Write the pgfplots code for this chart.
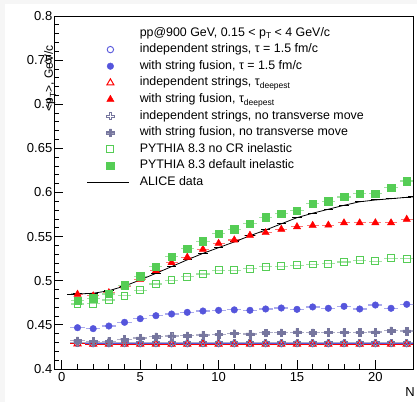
\documentclass[border=0pt]{standalone}
\usepackage{fontspec}
\setmainfont{Liberation Sans}
\usepackage{pgfplots}
\pgfplotsset{compat=1.18}
\usetikzlibrary{backgrounds}

\definecolor{cblue}{RGB}{85,85,220}
\definecolor{cred}{RGB}{255,0,0}
\definecolor{cgray}{RGB}{118,118,158}
\definecolor{cgreen}{RGB}{85,205,85}

% cross marks (ROOT styles 28 and 34)
\pgfdeclareplotmark{ocross}{%
  \pgfpathmoveto{\pgfqpoint{0.3\pgfplotmarksize}{\pgfplotmarksize}}%
  \pgfpathlineto{\pgfqpoint{0.3\pgfplotmarksize}{0.3\pgfplotmarksize}}%
  \pgfpathlineto{\pgfqpoint{\pgfplotmarksize}{0.3\pgfplotmarksize}}%
  \pgfpathlineto{\pgfqpoint{\pgfplotmarksize}{-0.3\pgfplotmarksize}}%
  \pgfpathlineto{\pgfqpoint{0.3\pgfplotmarksize}{-0.3\pgfplotmarksize}}%
  \pgfpathlineto{\pgfqpoint{0.3\pgfplotmarksize}{-\pgfplotmarksize}}%
  \pgfpathlineto{\pgfqpoint{-0.3\pgfplotmarksize}{-\pgfplotmarksize}}%
  \pgfpathlineto{\pgfqpoint{-0.3\pgfplotmarksize}{-0.3\pgfplotmarksize}}%
  \pgfpathlineto{\pgfqpoint{-\pgfplotmarksize}{-0.3\pgfplotmarksize}}%
  \pgfpathlineto{\pgfqpoint{-\pgfplotmarksize}{0.3\pgfplotmarksize}}%
  \pgfpathlineto{\pgfqpoint{-0.3\pgfplotmarksize}{0.3\pgfplotmarksize}}%
  \pgfpathlineto{\pgfqpoint{-0.3\pgfplotmarksize}{\pgfplotmarksize}}%
  \pgfpathclose\pgfusepathqstroke}
\pgfdeclareplotmark{fcross}{%
  \pgfpathmoveto{\pgfqpoint{0.3\pgfplotmarksize}{\pgfplotmarksize}}%
  \pgfpathlineto{\pgfqpoint{0.3\pgfplotmarksize}{0.3\pgfplotmarksize}}%
  \pgfpathlineto{\pgfqpoint{\pgfplotmarksize}{0.3\pgfplotmarksize}}%
  \pgfpathlineto{\pgfqpoint{\pgfplotmarksize}{-0.3\pgfplotmarksize}}%
  \pgfpathlineto{\pgfqpoint{0.3\pgfplotmarksize}{-0.3\pgfplotmarksize}}%
  \pgfpathlineto{\pgfqpoint{0.3\pgfplotmarksize}{-\pgfplotmarksize}}%
  \pgfpathlineto{\pgfqpoint{-0.3\pgfplotmarksize}{-\pgfplotmarksize}}%
  \pgfpathlineto{\pgfqpoint{-0.3\pgfplotmarksize}{-0.3\pgfplotmarksize}}%
  \pgfpathlineto{\pgfqpoint{-\pgfplotmarksize}{-0.3\pgfplotmarksize}}%
  \pgfpathlineto{\pgfqpoint{-\pgfplotmarksize}{0.3\pgfplotmarksize}}%
  \pgfpathlineto{\pgfqpoint{-0.3\pgfplotmarksize}{0.3\pgfplotmarksize}}%
  \pgfpathlineto{\pgfqpoint{-0.3\pgfplotmarksize}{\pgfplotmarksize}}%
  \pgfpathclose\pgfusepathqfillstroke}

\newcommand{\sub}[1]{\raisebox{-0.45ex}{\fontsize{8.5}{8.5}\selectfont #1}}

% <pT> vs N, x = N, y = <pT>
\pgfplotstableread{
x    ocirc   fcirc   otri    ftri    ocross  fcross  gopen   gfill
1    0.4290  0.4468  0.4286  0.4847  0.4298  0.4320  0.4737  0.4774
2    0.4287  0.4457  0.4283  0.4829  0.4296  0.4312  0.4741  0.4800
3    0.4287  0.4487  0.4283  0.4865  0.4296  0.4314  0.4782  0.4850
4    0.4288  0.4529  0.4283  0.4933  0.4297  0.4338  0.4830  0.4948
5    0.4287  0.4570  0.4283  0.5016  0.4296  0.4352  0.4892  0.5050
6    0.4288  0.4604  0.4283  0.5114  0.4297  0.4366  0.4963  0.5160
7    0.4287  0.4623  0.4283  0.5205  0.4296  0.4374  0.5005  0.5273
8    0.4287  0.4642  0.4283  0.5266  0.4296  0.4378  0.5046  0.5363
9    0.4288  0.4657  0.4283  0.5356  0.4297  0.4385  0.5077  0.5447
10   0.4287  0.4665  0.4283  0.5424  0.4296  0.4392  0.5118  0.5533
11   0.4287  0.4670  0.4283  0.5462  0.4296  0.4402  0.5120  0.5583
12   0.4288  0.4665  0.4283  0.5515  0.4297  0.4397  0.5137  0.5647
13   0.4287  0.4680  0.4283  0.5545  0.4296  0.4410  0.5160  0.5719
14   0.4287  0.4691  0.4283  0.5583  0.4296  0.4411  0.5163  0.5760
15   0.4288  0.4676  0.4283  0.5612  0.4297  0.4418  0.5177  0.5792
16   0.4287  0.4703  0.4283  0.5627  0.4296  0.4411  0.5184  0.5875
17   0.4287  0.4688  0.4283  0.5630  0.4296  0.4415  0.5192  0.5900
18   0.4288  0.4710  0.4283  0.5656  0.4297  0.4415  0.5212  0.5950
19   0.4287  0.4680  0.4283  0.5656  0.4296  0.4415  0.5233  0.5987
20   0.4287  0.4725  0.4283  0.5657  0.4296  0.4420  0.5220  0.5987
21   0.4288  0.4688  0.4283  0.5656  0.4297  0.4434  0.5256  0.6055
22   0.4287  0.4733  0.4283  0.5696  0.4296  0.4430  0.5250  0.6130
}\sim

\pgfplotstableread{
x     y
0.6   0.4849
1     0.4850
2     0.4858
3     0.4887
4     0.4940
5     0.5009
6     0.5084
7     0.5160
8     0.5237
9     0.5310
10    0.5375
11    0.5440
12    0.5510
13    0.5575
14    0.5645
15    0.5715
16    0.5765
17    0.5810
18    0.5855
19    0.5895
20    0.5915
21    0.5930
22    0.5945
22.4  0.5950
}\alice

\begin{document}
\begin{tikzpicture}
\begin{axis}[
  width=359pt, height=353pt, scale only axis,
  xmin=-0.5, xmax=22.4, ymin=0.4, ymax=0.8,
  axis line style={line width=0.8pt},
  xtick={0,5,10,15,20}, xticklabels={0,5,10,15,20},
  minor x tick num=4,
  ytick={0.4,0.45,0.5,0.55,0.6,0.65,0.7,0.75,0.8},
  yticklabels={0.4,0.45,0.5,0.55,0.6,0.65,0.7,0.75,0.8},
  minor y tick num=4,
  tick align=inside, tick pos=left,
  major tick length=9pt, minor tick length=4.5pt,
  every tick/.style={black, line width=0.8pt},
  tick label style={font=\fontsize{13}{13}\selectfont},
  yticklabel style={inner sep=1.5pt},
  xlabel={N},
  x label style={at={(rel axis cs:1,0)}, anchor=north east, yshift=-18pt, xshift=2pt, inner sep=0pt, font=\fontsize{13}{13}\selectfont},
  ylabel={<p\sub{T}>, GeV/c},
  y label style={at={(rel axis cs:0,1)}, anchor=base east, xshift=-29pt, yshift=1pt, inner sep=0pt, font=\fontsize{12}{12}\selectfont},
  legend cell align=left,
  legend style={at={(rel axis cs:0.0919,0.9688)}, anchor=north west, draw=none, fill=none,
    inner sep=0pt, outer sep=0pt, font=\fontsize{12.4}{14}\selectfont, row sep=4.6pt,
    nodes={inner sep=0pt, text height=9pt, text depth=3pt},
    /tikz/every odd column/.append style={column sep=10pt}},
  legend image code/.code={\path[draw=none, fill=none] (0pt,0pt) rectangle (42pt,0.1pt);\draw[#1] plot coordinates {(23pt,0pt)};},
  every axis plot/.append style={only marks},
]
\coordinate (bl) at (rel axis cs:0,0);
\coordinate (tr) at (rel axis cs:1,1);

\addlegendimage{empty legend}
\addlegendentry{pp@900 GeV, 0.15 < p\sub{T} < 4 GeV/c}

\addplot[cblue, mark=o, mark size=3.2pt, mark options={line width=0.9pt},
  error bars/.cd, x dir=both, x fixed=0.5, error mark=none,
  error bar style={cblue, line width=1pt}] table[x=x, y=ocirc] {\sim};
\addlegendentry{independent strings, τ = 1.5 fm/c}

\addplot[cblue, mark=*, mark size=3.3pt,
  error bars/.cd, x dir=both, x fixed=0.45, error mark=none,
  error bar style={cblue!50, line width=1.2pt}] table[x=x, y=fcirc] {\sim};
\addlegendentry{with string fusion, τ = 1.5 fm/c}

\addplot[cred, mark=triangle, mark size=4pt, mark options={line width=1pt},
  error bars/.cd, x dir=both, x fixed=0.5, error mark=none,
  error bar style={cred, line width=1pt}] table[x=x, y=otri] {\sim};
\addlegendentry{independent strings, τ\sub{deepest}}

\addplot[cred, mark=triangle*, mark size=4.2pt,
  error bars/.cd, x dir=both, x fixed=0.38, error mark=none,
  error bar style={cred!55, line width=1.2pt}] table[x=x, y=ftri] {\sim};
\addlegendentry{with string fusion, τ\sub{deepest}}

\addplot[cgray, mark=ocross, mark size=3.6pt, mark options={line width=0.8pt},
  error bars/.cd, x dir=both, x fixed=0.5, error mark=none,
  error bar style={cgray!60, line width=1pt}] table[x=x, y=ocross] {\sim};
\addlegendentry{independent strings, no transverse move}

\addplot[cgray, mark=fcross, mark size=3.8pt, mark options={fill=cgray, line width=0.4pt},
  error bars/.cd, x dir=both, x fixed=0.45, error mark=none,
  error bar style={cgray!60, line width=1.2pt}] table[x=x, y=fcross] {\sim};
\addlegendentry{with string fusion, no transverse move}

\addplot[cgreen, mark=square, mark size=3.4pt, mark options={line width=1pt},
  error bars/.cd, x dir=both, x fixed=0.42, error mark=none,
  error bar style={cgreen!55, line width=1.2pt}] table[x=x, y=gopen] {\sim};
\addlegendentry{PYTHIA 8.3 no CR inelastic}

\addplot[cgreen, mark=square*, mark size=3.7pt,
  error bars/.cd, x dir=both, x fixed=0.42, error mark=none,
  error bar style={cgreen!55, line width=1.2pt}] table[x=x, y=gfill] {\sim};
\addlegendentry{PYTHIA 8.3 default inelastic}

\addplot[black, no marks, sharp plot, line width=0.8pt,
  legend image code/.code={\draw[black, line width=0.8pt] (0pt,0pt) -- (42pt,0pt);},
  error bars/.cd, x dir=both, x fixed=0.3, error mark=none,
  error bar style={black, line width=1pt}] table[x=x, y=y] {\alice};
\addlegendentry{ALICE data}
\end{axis}
\begin{scope}[on background layer]
  \fill[gray!7] ([xshift=-54pt,yshift=-33pt]bl) rectangle ([xshift=4pt,yshift=16pt]tr);
  \fill[white] ([xshift=-49pt,yshift=-33pt]bl) rectangle ([xshift=4pt,yshift=12pt]tr);
\end{scope}
\end{tikzpicture}
\end{document}
